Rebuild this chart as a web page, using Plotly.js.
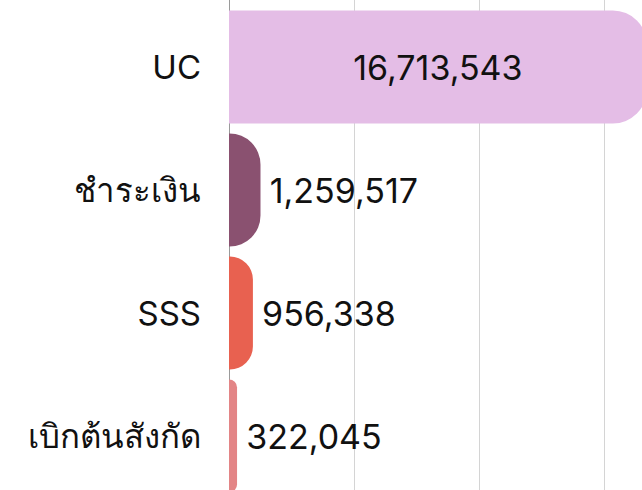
<!DOCTYPE html>
<html>
<head>
<meta charset="utf-8">
<script src="https://cdn.plot.ly/plotly-3.0.1.min.js"></script>
<style>
html, body { margin: 0; padding: 0; overflow: hidden; background: #fff; }
#chart { width: 650px; height: 490px; }
</style>
</head>
<body>
<div id="chart"></div>
<script>
const categories = ['UC', 'ชำระเงิน', 'SSS', 'เบิกต้นสังกัด'];
const values = [16713543, 1259517, 956338, 322045];
const barColors = ['#e4bde6', '#8a5170', '#e86150', '#e38586'];
const textPositions = ['inside', 'outside', 'outside', 'outside'];
const textTemplates = ['%{x:,}', '\u2009%{x:,}', '\u2009%{x:,}', '\u2009%{x:,}'];

const FONT = 'Inter, "Noto Sans", "DejaVu Sans", sans-serif';

const trace = {
  type: 'bar',
  orientation: 'h',
  x: values,
  y: categories,
  marker: { color: barColors, line: { width: 0 } },
  texttemplate: textTemplates,
  textposition: textPositions,
  insidetextanchor: 'middle',
  constraintext: 'none',
  textfont: { family: FONT, size: 34, color: '#111111' },
  cliponaxis: true,
  hoverinfo: 'none'
};

const layout = {
  width: 650,
  height: 490,
  margin: { l: 229, r: 0, t: 0, b: 0, pad: 0 },
  paper_bgcolor: '#ffffff',
  plot_bgcolor: '#ffffff',
  bargap: 0.081,
  barcornerradius: 34,
  showlegend: false,
  font: { family: FONT, size: 33, color: '#111111' },
  xaxis: {
    range: [0, 16840000],
    dtick: 5000000,
    tick0: 0,
    showticklabels: false,
    showgrid: true,
    gridcolor: '#d4d4d4',
    gridwidth: 1,
    zeroline: true,
    zerolinecolor: '#9a9a9a',
    zerolinewidth: 1,
    showline: false,
    fixedrange: true
  },
  yaxis: {
    type: 'category',
    range: [3.439, -0.545],
    showgrid: false,
    zeroline: false,
    showline: false,
    ticks: '',
    ticklabelstandoff: 27,
    tickfont: { family: FONT, size: 33, color: '#111111' },
    fixedrange: true
  }
};

Plotly.newPlot('chart', [trace], layout, { displayModeBar: false, staticPlot: true });
</script>
</body>
</html>
